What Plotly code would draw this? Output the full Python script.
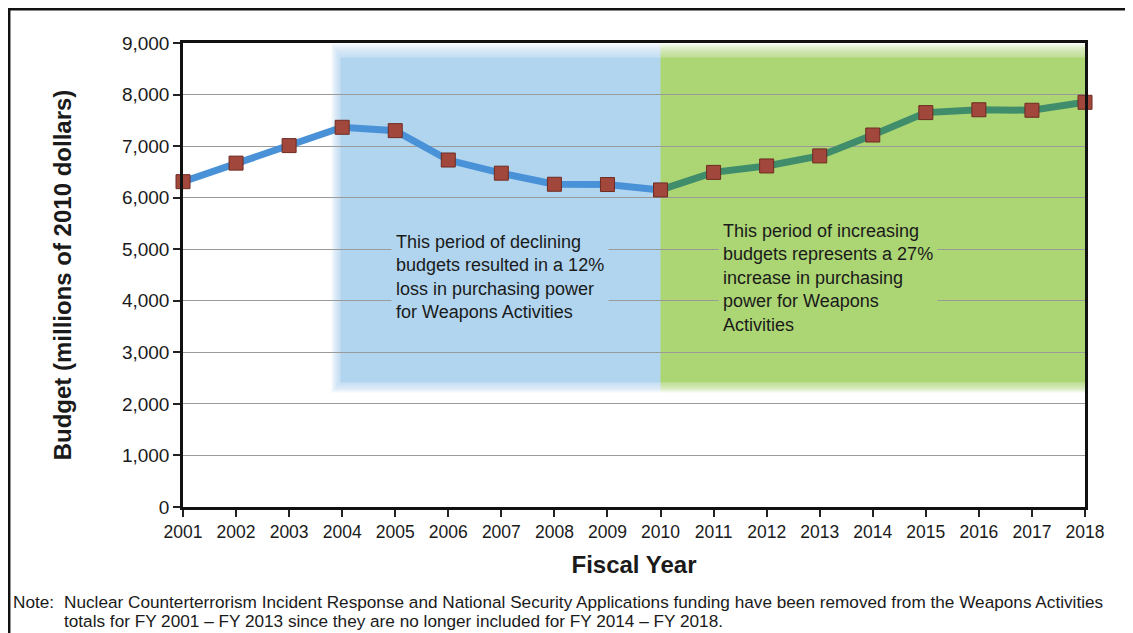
import plotly.graph_objects as go

# fiscal years and budget (millions of 2010 dollars)
years = list(range(2001, 2019))
budget = [6310, 6670, 7010, 7365, 7300, 6730, 6475, 6260, 6255, 6150,
          6490, 6615, 6810, 7215, 7650, 7705, 7695, 7850]

y_ticks = list(range(0, 9001, 1000))
y_tick_labels = [f"{v:,}" for v in y_ticks]

decline_text = ("This period of declining<br>budgets resulted in a 12%<br>"
                "loss in purchasing power<br>for Weapons Activities")
increase_text = ("This period of increasing<br>budgets represents a 27%<br>"
                 "increase in purchasing<br>power for Weapons<br>Activities")
note_lines = [
    "Nuclear Counterterrorism Incident Response and National Security Applications "
    "funding have been removed from the Weapons Activities",
    "totals for FY 2001 \u2013 FY 2013 since they are no longer included for FY 2014 \u2013 FY 2018.",
]

BLUE_BG = "#b1d5ef"
GREEN_BG = "#acd574"
FONT = "Liberation Sans, Arial, sans-serif"

# page has an 8px body margin, so the figure is laid out in its own pixels
W, H = 1125, 625
L, T = 175, 35
PW, PH = 902, 464


def px(x):
    return (x - L) / PW


def py(y):
    return 1 - (y - T) / PH


split = years.index(2010)

fig = go.Figure()

# blue line segment (up to 2010)
fig.add_trace(go.Scatter(
    x=years[:split + 1], y=budget[:split + 1], mode="lines",
    line=dict(color="#4a92d8", width=7), cliponaxis=False, hoverinfo="skip"))
# green line segment (2010 onwards)
fig.add_trace(go.Scatter(
    x=years[split:], y=budget[split:], mode="lines",
    line=dict(color="#3f8d6b", width=7), cliponaxis=False, hoverinfo="skip"))
# markers
fig.add_trace(go.Scatter(
    x=years, y=budget, mode="markers",
    marker=dict(symbol="square", size=14, color="#a2473c",
                line=dict(color="#6e2b22", width=1)),
    cliponaxis=False))

# shaded periods, soft edges built from stacked translucent rects
steps = 9
for i in range(steps):
    f = (steps - 1 - i) / (steps - 1)
    op = 1.0 if i == steps - 1 else 0.14
    fig.add_shape(type="rect", layer="below", xref="x", yref="y",
                  x0=2003.97 - 0.17 * f, x1=2010,
                  y0=2420 - 200 * f, y1=8720 + 270 * f,
                  fillcolor=BLUE_BG, opacity=op, line_width=0)
    fig.add_shape(type="rect", layer="below", xref="x", yref="y",
                  x0=2010, x1=2018 + 0.17 * f,
                  y0=2420 - 200 * f, y1=8720 + 270 * f,
                  fillcolor=GREEN_BG, opacity=op, line_width=0)

# outer frame (top and left edges visible)
fig.add_shape(type="line", xref="paper", yref="paper",
              x0=px(0), x1=px(W), y0=py(1.2), y1=py(1.2),
              line=dict(color="#111111", width=2.5))
fig.add_shape(type="line", xref="paper", yref="paper",
              x0=px(1.2), x1=px(1.2), y0=py(0), y1=py(H),
              line=dict(color="#111111", width=2.5))

fig.add_annotation(x=2006.98, y=4470, xref="x", yref="y", text=decline_text,
                   showarrow=False, align="left", bgcolor=BLUE_BG,
                   borderpad=4, font=dict(size=18, color="#1a1a1a", family=FONT))
fig.add_annotation(x=2013.15, y=4450, xref="x", yref="y", text=increase_text,
                   showarrow=False, align="left", bgcolor=GREEN_BG,
                   borderpad=4, font=dict(size=18, color="#1a1a1a", family=FONT))

fig.add_annotation(x=px(3), y=py(594), xref="paper", yref="paper", text="Note:",
                   showarrow=False, xanchor="left", yanchor="middle", align="left",
                   font=dict(size=17.2, color="#1a1a1a", family=FONT))
for k, line in enumerate(note_lines):
    fig.add_annotation(x=px(54), y=py(594 + 18.5 * k), xref="paper", yref="paper",
                       text=line, showarrow=False, xanchor="left", yanchor="middle",
                       align="left", font=dict(size=17.2, color="#1a1a1a", family=FONT))

fig.update_layout(
    width=W, height=H,
    margin=dict(l=L, r=W - L - PW, t=T, b=H - T - PH),
    paper_bgcolor="white", plot_bgcolor="white",
    showlegend=False,
    font=dict(family=FONT, color="#1a1a1a"),
)
fig.update_xaxes(
    range=[2001, 2018], tickvals=years, ticktext=[str(y) for y in years],
    tickfont=dict(size=17.5), ticks="outside", ticklen=7, tickwidth=1.5,
    tickcolor="#222", showline=True, linecolor="#111", linewidth=2.5,
    mirror=True, showgrid=False, zeroline=False,
    title=dict(text="<b>Fiscal Year</b>", font=dict(size=24), standoff=16),
)
fig.update_yaxes(
    range=[0, 9000], tickvals=y_ticks, ticktext=y_tick_labels,
    tickfont=dict(size=19), ticks="outside", ticklen=7, tickwidth=1.5,
    tickcolor="#222", showline=True, linecolor="#111", linewidth=2.5,
    mirror=True, showgrid=True, gridcolor="#9a9a9a", gridwidth=1.3,
    zeroline=False,
    title=dict(text="<b>Budget (millions of 2010 dollars)</b>",
               font=dict(size=24), standoff=44),
)

fig.write_html("out.html")
